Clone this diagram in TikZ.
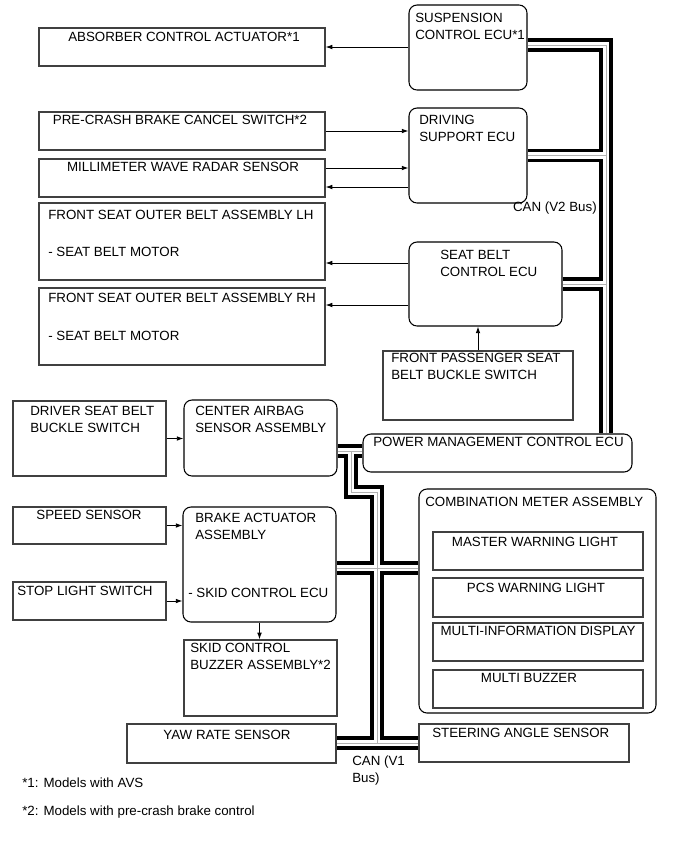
\documentclass[tikz,border=0pt]{standalone}
\usepackage{fontspec}
\setmainfont{Liberation Sans}
\usetikzlibrary{positioning,fit,arrows.meta,backgrounds,calc}
\tikzset{
  part/.style={draw=black!75,line width=0.9pt,inner sep=0pt},
  ecu/.style={part,draw=black,line width=0.8pt,rounded corners=6pt},
  lbl/.style={font=\fontsize{10}{12.75}\selectfont,inner sep=0pt,align=left},
  sig/.style={-{Latex[length=5pt,width=3.5pt]},line width=0.7pt},
  can/.style={line width=10pt,
              postaction={draw=white,line width=5pt},
              postaction={draw=black!30,line width=0.6pt}},
}

\begin{document}
\begin{tikzpicture}[x=0.75pt,y=-0.75pt]
  \useasboundingbox (0,0) rectangle (691,854);

  % V2 side
  \node[part,fit={(39,28)(325,66)}] (absorber) {};
  \node[lbl] (absorbertxt) at (184,37) {ABSORBER CONTROL ACTUATOR*1};
  \node[ecu,fit={(409,5)(527,90)}] (susp) {};
  \node[lbl,anchor=west] (susptxt) at (415,26.5) {SUSPENSION\\CONTROL ECU*1};
  \node[part,fit={(39,112)(325,150)}] (precrash) {};
  \node[lbl] (precrashtxt) at (180,120) {PRE-CRASH BRAKE CANCEL SWITCH*2};
  \node[part,fit={(39,159)(325,197)}] (radar) {};
  \node[lbl] (radartxt) at (183,167) {MILLIMETER WAVE RADAR SENSOR};
  \node[ecu,fit={(409,108)(527,203)}] (driving) {};
  \node[lbl,anchor=west] (drivingtxt) at (419,128) {DRIVING\\SUPPORT ECU};
  \node[part,fit={(39,203)(325,280)}] (lh) {};
  \node[lbl,anchor=west] (lhtxt) at (48,215) {FRONT SEAT OUTER BELT ASSEMBLY LH};
  \node[lbl,anchor=west] (lhsub) at (48,252) {- SEAT BELT MOTOR};
  \node[part,fit={(39,288)(325,365)}] (rh) {};
  \node[lbl,anchor=west] (rhtxt) at (48,298) {FRONT SEAT OUTER BELT ASSEMBLY RH};
  \node[lbl,anchor=west] (rhsub) at (48,336) {- SEAT BELT MOTOR};
  \node[ecu,fit={(409,242)(562,326)}] (seatbelt) {};
  \node[lbl,anchor=west] (seatbelttxt) at (440,263.5) {SEAT BELT\\CONTROL ECU};
  \node[part,fit={(383,351)(573,420)}] (passenger) {};
  \node[lbl,anchor=west] (passengertxt) at (391,366.5) {FRONT PASSENGER SEAT\\BELT BUCKLE SWITCH};
  \node[ecu,fit={(363,434)(632,472)}] (pm) {};
  \node[lbl,anchor=west] (pmtxt) at (373,442) {POWER MANAGEMENT CONTROL ECU};
  \node[lbl,anchor=east] (v2txt) at (597,208) {CAN (V2 Bus)};

  % V1 side
  \node[part,fit={(13,401)(166,476)}] (driver) {};
  \node[lbl,anchor=west] (drivertxt) at (30,419) {DRIVER SEAT BELT\\BUCKLE SWITCH};
  \node[ecu,fit={(184,400)(337,476)}] (airbag) {};
  \node[lbl,anchor=west] (airbagtxt) at (195,419) {CENTER AIRBAG\\SENSOR ASSEMBLY};
  \node[part,fit={(13,507)(166,544)}] (speed) {};
  \node[lbl] (speedtxt) at (89,515) {SPEED SENSOR};
  \node[ecu,fit={(183,507)(336,622)}] (brake) {};
  \node[lbl,anchor=west] (braketxt) at (195,526) {BRAKE ACTUATOR\\ASSEMBLY};
  \node[lbl,anchor=west] (brakesub) at (188,593) {- SKID CONTROL ECU};
  \node[part,fit={(13,582)(166,620)}] (stop) {};
  \node[lbl,anchor=west] (stoptxt) at (17,591) {STOP LIGHT SWITCH};
  \node[part,fit={(184,640)(337,716)}] (skidbuzzer) {};
  \node[lbl,anchor=west] (skidbuzzertxt) at (190,656) {SKID CONTROL\\BUZZER ASSEMBLY*2};
  \node[part,fit={(127,724)(336,763)}] (yaw) {};
  \node[lbl] (yawtxt) at (227,735) {YAW RATE SENSOR};
  \node[ecu,fit={(419,489)(656,713)}] (combo) {};
  \node[lbl,anchor=west] (combotxt) at (425,502) {COMBINATION METER ASSEMBLY};
  \node[part,fit={(433,532)(643,570)}] (master) {};
  \node[lbl] (mastertxt) at (535,542) {MASTER WARNING LIGHT};
  \node[part,fit={(433,578)(643,617)}] (pcs) {};
  \node[lbl] (pcstxt) at (536,588) {PCS WARNING LIGHT};
  \node[part,fit={(433,623)(643,661)}] (mid) {};
  \node[lbl] (midtxt) at (538,631) {MULTI-INFORMATION DISPLAY};
  \node[part,fit={(433,670)(643,708)}] (buzzer) {};
  \node[lbl] (buzzertxt) at (529,678) {MULTI BUZZER};
  \node[part,fit={(419,724)(629,762)}] (steering) {};
  \node[lbl,anchor=west] (steeringtxt) at (432,733) {STEERING ANGLE SENSOR};
  \node[lbl,anchor=west] (v1txt) at (352,770.5) {CAN (V1\\Bus)};

  \node[lbl,anchor=west] (note1) at (22,783) {*1: Models with AVS};
  \node[lbl,anchor=west] (note2) at (22,812) {*2: Models with pre-crash brake control};

  % signal lines
  \draw[sig] (absorber.east -| susp.west) -- (absorber.east);
  \draw[sig] (precrash.east) -- (precrash.east -| driving.west);
  \draw[sig] ($(radar.east)+(0,-10)$) -- ($(radar.east -| driving.west)+(0,-10)$);
  \draw[sig] ($(radar.east -| driving.west)+(0,9)$) -- ($(radar.east)+(0,9)$);
  \draw[sig] ($(seatbelt.west)+(0,-21)$) -- ($(seatbelt.west -| lh.east)+(0,-21)$);
  \draw[sig] ($(seatbelt.west)+(0,21)$) -- ($(seatbelt.west -| rh.east)+(0,21)$);
  \draw[sig] (passenger.north) -- (passenger.north |- seatbelt.south);
  \draw[sig] (driver.east) -- (driver.east -| airbag.west);
  \draw[sig] (speed.east) -- (speed.east -| brake.west);
  \draw[sig] (stop.east) -- (stop.east -| brake.west);
  \draw[sig] (brake.south) -- (brake.south |- skidbuzzer.north);

  % CAN buses
  \coordinate (v2) at (606,45);
  \coordinate (v1top) at (351,451);
  \coordinate (v1jog) at (351,492);
  \coordinate (v1mid) at (377,492);
  \coordinate (v1cross) at (377,568);
  \coordinate (v1bot) at (377,743);
  \begin{scope}[on background layer]
    \draw[can] (v2 -| susp.east) -- (v2) -- (v2 |- pm.north)
      (driving.east) -- (driving.east -| v2)
      (seatbelt.east) -- (seatbelt.east -| v2);
    \draw[can] (v1top -| airbag.east) -- (v1top -| pm.west)
      (v1top) -- (v1jog) -- (v1mid) -- (v1bot)
      (v1cross -| brake.east) -- (v1cross -| combo.west)
      (v1bot -| yaw.east) -- (v1bot -| steering.west);
  \end{scope}
\end{tikzpicture}
\end{document}
